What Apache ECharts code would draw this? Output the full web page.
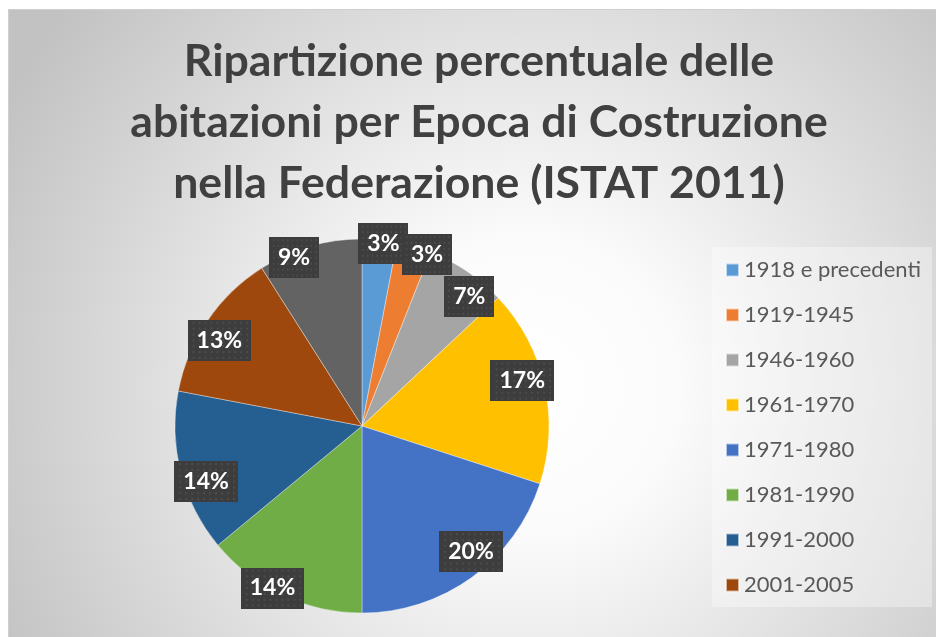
<!DOCTYPE html>
<html>
<head>
<meta charset="utf-8">
<script src="https://cdn.jsdelivr.net/npm/echarts@6/dist/echarts.min.js"></script>
<style>
  html, body { margin: 0; padding: 0; background: #ffffff; }
  #chart {
    position: absolute; left: 8px; top: 9px;
    width: 928px; height: 628px; box-sizing: border-box;
    border-top: 1px solid #cfcfcf; border-left: 1px solid #cfcfcf;
  }
</style>
</head>
<body>
<div id="chart"></div>
<script>
// Epoca di costruzione delle abitazioni (ISTAT 2011), quota percentuale
const epoche = ['1918 e precedenti', '1919-1945', '1946-1960', '1961-1970', '1971-1980',
                '1981-1990', '1991-2000', '2001-2005', '2006-2011'];
const quote = [3, 3, 7, 17, 20, 14, 14, 13, 9];
// voci mostrate in legenda
const vociLegenda = epoche.slice(0, 8);

const colori = ['#5B9BD5', '#ED7D31', '#A5A5A5', '#FFC000', '#4472C4',
                '#70AD47', '#255E91', '#9E480E', '#636363'];

// pie geometry (pixels inside the chart box)
const CX = 353, CY = 416, R = 187;
// label placement: angular nudge (deg) and radius as a fraction of R
const labelNudge = [[1.3, 0.98], [4.6, 0.98], [5.4, 0.90], [-3.1, 0.89], [-4.9, 0.89],
                    [3.7, 0.99], [-5.2, 0.885], [-3.2, 0.89], [-5.8, 0.97]];

const total = quote.reduce((a, b) => a + b, 0);
const midAngles = [];
let acc = 0;
quote.forEach(v => { midAngles.push((acc + v / 2) / total * 360); acc += v; });

// subtle dotted texture for the label boxes
function dotTile() {
  const c = document.createElement('canvas');
  c.width = 64; c.height = 42;
  const g = c.getContext('2d');
  g.fillStyle = '#3d3d3d';
  g.fillRect(0, 0, 64, 42);
  g.fillStyle = '#4c4c4c';
  for (let y = 2; y < 42; y += 6) {
    for (let x = (y / 6) % 2 ? 5 : 2; x < 64; x += 6) g.fillRect(x, y, 2, 2);
  }
  return c;
}

const chart = echarts.init(document.getElementById('chart'), null, { renderer: 'canvas' });
const font = 'Lato, "Open Sans", sans-serif';

chart.setOption({
  backgroundColor: {
    type: 'radial', x: 0.56, y: 0.6, r: 0.95,
    colorStops: [
      { offset: 0, color: '#ffffff' },
      { offset: 0.25, color: '#fbfbfb' },
      { offset: 1, color: '#c2c2c2' }
    ]
  },
  color: colori,
  title: {
    text: 'Ripartizione percentuale delle\nabitazioni per Epoca di Costruzione\nnella Federazione (ISTAT 2011)',
    left: 470, top: 21, textAlign: 'center', padding: 0,
    textStyle: { fontFamily: font, fontWeight: 'bold', fontSize: 44.6, lineHeight: 61, color: '#404040' }
  },
  graphic: [{
    type: 'rect', left: 703, top: 237, z: 0,
    shape: { width: 220, height: 360 },
    style: { fill: 'rgba(255,255,255,0.35)' }
  }],
  legend: {
    orient: 'vertical', left: 716, top: 249, padding: 0,
    data: vociLegenda,
    itemWidth: 13, itemHeight: 13, itemGap: 23, icon: 'rect',
    textStyle: { fontFamily: font, fontSize: 22, lineHeight: 22, color: '#595959' }
  },
  series: [{
    type: 'pie',
    center: [CX, CY], radius: R,
    startAngle: 90, clockwise: true,
    avoidLabelOverlap: false,
    itemStyle: { borderColor: 'rgba(255,255,255,0.6)', borderWidth: 0.6 },
    label: {
      show: true, position: 'inside',
      formatter: p => p.value + '%',
      fontFamily: font, fontWeight: 'bold', fontSize: 23, lineHeight: 24,
      color: '#ffffff',
      backgroundColor: { image: dotTile() },
      padding: [9, 9, 8, 9],
      shadowColor: 'rgba(0,0,0,0.45)', shadowBlur: 6, shadowOffsetX: 3, shadowOffsetY: 3
    },
    labelLine: { show: false },
    labelLayout: function (p) {
      const i = p.dataIndex;
      const a = (midAngles[i] + labelNudge[i][0]) * Math.PI / 180;
      const r = R * labelNudge[i][1];
      return { x: CX + r * Math.sin(a), y: CY - r * Math.cos(a), align: 'center', verticalAlign: 'middle' };
    },
    emphasis: { disabled: true },
    data: epoche.map((n, i) => ({ name: n, value: quote[i] }))
  }]
});
</script>
</body>
</html>
